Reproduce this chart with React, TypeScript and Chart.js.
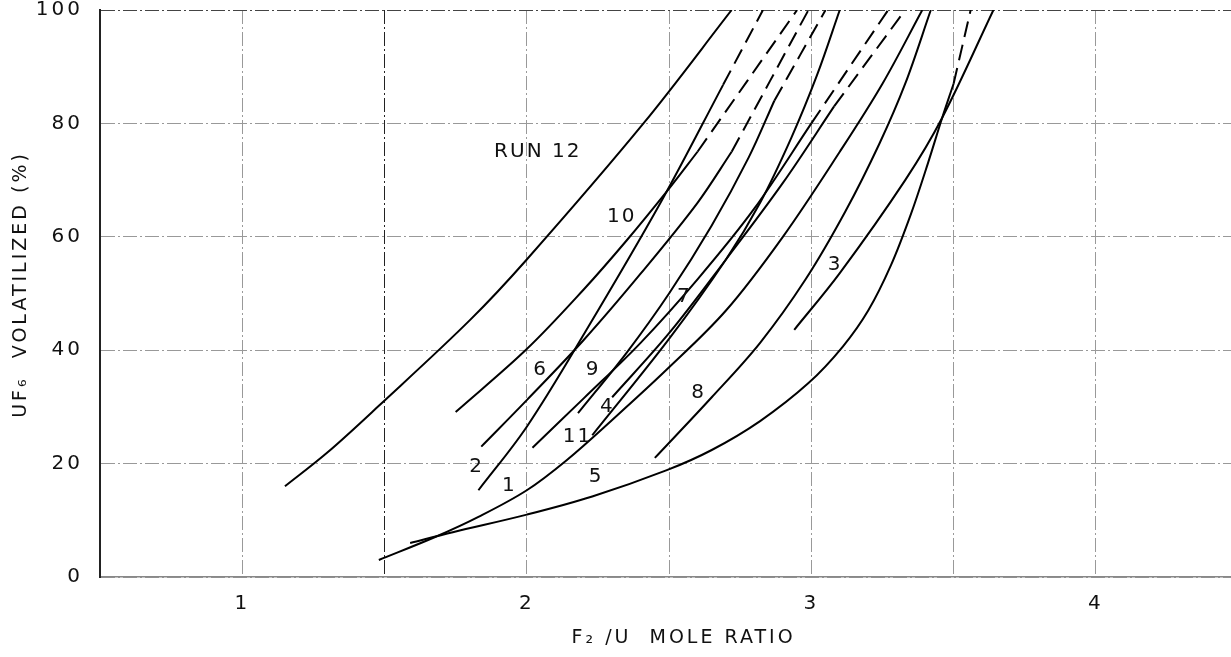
import React, { useEffect, useRef } from "react";
import { Chart, registerables } from "chart.js";

Chart.register(...registerables);

// Tick values
const xTickLabels = [1, 2, 3, 4];
const yTickValues = [0, 20, 40, 60, 80, 100];

// Each run: solid (measured) part and dashed (extrapolated) part, as [F2/U mole ratio, % UF6 volatilized]
const run1 = [[1.48, 3], [1.68, 7.1], [1.83, 10.6], [2.0, 15.3], [2.14, 20.6], [2.3, 27.7], [2.49, 36.5], [2.7, 47], [2.9, 60], [3.1, 75], [3.25, 87], [3.39, 100]];
const run1Dash: number[][] = [];
const run2 = [[1.83, 15.3], [2.0, 26.5], [2.21, 43.6], [2.47, 66], [2.69, 86.8]];
const run2Dash = [[2.69, 86.8], [2.83, 100]];
const run3 = [[2.94, 43.6], [3.1, 53.6], [3.33, 70], [3.46, 81], [3.64, 100]];
const run3Dash: number[][] = [];
const run4 = [[2.3, 31.7], [2.5, 43], [2.7, 56], [2.9, 69.5], [3.08, 83]];
const run4Dash = [[3.08, 83], [3.33, 100]];
const run5 = [[1.59, 6], [1.74, 7.9], [2.0, 11], [2.23, 14.2], [2.49, 18.8], [2.65, 22.4], [2.82, 27.5], [2.99, 34.2], [3.11, 40.6], [3.2, 47], [3.28, 55], [3.35, 64], [3.41, 73], [3.46, 81], [3.5, 87]];
const run5Dash = [[3.5, 87], [3.56, 100]];
const run6 = [[1.84, 23], [2.0, 31.2], [2.2, 41.8], [2.4, 53.5], [2.6, 66], [2.72, 75]];
const run6Dash = [[2.72, 75], [2.99, 100]];
const run7 = [[2.18, 28.9], [2.35, 39.5], [2.5, 50], [2.65, 62], [2.78, 74], [2.87, 84]];
const run7Dash = [[2.87, 84], [3.05, 100]];
const run8 = [[2.45, 21], [2.65, 31.7], [2.82, 41.3], [2.98, 52.5], [3.12, 64.5], [3.24, 76.5], [3.33, 87], [3.42, 100]];
const run8Dash: number[][] = [];
const run9 = [[2.02, 22.8], [2.2, 31.5], [2.4, 41.3], [2.6, 52.5], [2.8, 65], [3.0, 80]];
const run9Dash = [[3.0, 80], [3.27, 100]];
const run10 = [[1.75, 29.1], [2.0, 40.2], [2.2, 50.7], [2.35, 59.3], [2.5, 68.5], [2.6, 75]];
const run10Dash = [[2.6, 75], [2.95, 100]];
const run11 = [[2.23, 25], [2.5, 42], [2.7, 56], [2.82, 66], [2.93, 77.5], [3.02, 88.5], [3.1, 100]];
const run11Dash: number[][] = [];
const run12 = [[1.15, 16], [1.3, 22], [1.48, 30.2], [1.8, 45.3], [2.0, 56], [2.41, 80], [2.72, 100]];

// Curve labels [text, x, y]
const curveLabels: [string, number, number][] = [
  ["RUN 12", 2.035, 75],
  ["10", 2.33, 63.5],
  ["6", 2.045, 36.5],
  ["9", 2.23, 36.5],
  ["7", 2.55, 49.4],
  ["4", 2.28, 30],
  ["11", 2.175, 24.8],
  ["8", 2.6, 32.5],
  ["2", 1.82, 19.4],
  ["1", 1.935, 16],
  ["5", 2.24, 17.6],
  ["3", 3.08, 55],
];

const solidRuns = [run1, run2, run3, run4, run5, run6, run7, run8, run9, run10, run11, run12];
const dashRuns = [run1Dash, run2Dash, run3Dash, run4Dash, run5Dash, run6Dash, run7Dash, run8Dash, run9Dash, run10Dash, run11Dash];

const FONT = "'DejaVu Sans', sans-serif";

const spacingPlugin = {
  id: "letterSpacing",
  beforeUpdate(chart: any) {
    chart.ctx.letterSpacing = "3px";
  },
  beforeDraw(chart: any) {
    chart.ctx.letterSpacing = "3px";
  },
};

const labelPlugin = {
  id: "curveLabels",
  afterDatasetsDraw(chart: any) {
    const { ctx, scales } = chart;
    ctx.save();
    ctx.letterSpacing = "2px";
    ctx.fillStyle = "#111";
    ctx.font = `20px ${FONT}`;
    ctx.textAlign = "center";
    ctx.textBaseline = "middle";
    for (const [t, x, y] of curveLabels) {
      ctx.fillText(t, scales.x.getPixelForValue(x) + 1, scales.y.getPixelForValue(y));
    }
    ctx.restore();
  },
};

export default function App() {
  const ref = useRef<HTMLCanvasElement | null>(null);
  useEffect(() => {
    document.body.style.margin = "0";
    const toPts = (a: number[][]) => a.map(([x, y]) => ({ x, y }));
    const datasets: any[] = [];
    solidRuns.forEach((r) => {
      if (r.length)
        datasets.push({
          data: toPts(r),
          borderColor: "#000",
          borderWidth: 2,
          pointRadius: 0,
          tension: 0.35,
          fill: false,
        });
    });
    dashRuns.forEach((r) => {
      if (r.length)
        datasets.push({
          data: toPts(r),
          borderColor: "#000",
          borderWidth: 2,
          borderDash: [16, 8],
          pointRadius: 0,
          tension: 0.35,
          fill: false,
        });
    });
    const chart = new Chart(ref.current as HTMLCanvasElement, {
      type: "line",
      data: { datasets },
      options: {
        animation: false,
        responsive: false,
        maintainAspectRatio: false,
        layout: { padding: { top: 10, right: 0, left: 0, bottom: 0 } },
        plugins: { legend: { display: false }, tooltip: { enabled: false } },
        scales: {
          x: {
            type: "linear",
            min: 0.5,
            max: 4.475,
            afterFit: (axis: any) => {
              axis.height = 80;
              axis.paddingLeft = 0;
              axis.paddingRight = 0;
            },
            border: { display: true, color: "#888", width: 1.5, dash: [14, 3, 2, 3] },
            grid: {
              color: (c: any) => (c.tick && c.tick.value === 1.5 ? "#222" : "#999"),
              lineWidth: 1,
              drawTicks: false,
            },
            ticks: {
              stepSize: 0.5,
              color: "#111",
              padding: 15,
              font: { family: FONT, size: 20 },
              callback: (v: any) => (xTickLabels.includes(Number(v)) ? String(v) : ""),
              maxRotation: 0,
              autoSkip: false,
            },
            title: {
              display: true,
              text: "    F₂ /U  MOLE RATIO",
              color: "#111",
              font: { family: FONT, size: 19 },
              padding: { top: 0, bottom: 8 },
            },
          },
          y: {
            type: "linear",
            min: 0,
            max: 100,
            afterBuildTicks: (axis: any) => {
              axis.ticks = yTickValues.map((v) => ({ value: v }));
            },
            afterFit: (axis: any) => {
              axis.width = 100;
              axis.paddingTop = 0;
              axis.paddingBottom = 0;
            },
            border: { display: true, color: "#222", width: 2, dash: [14, 3, 2, 3] },
            grid: {
              color: (c: any) => (c.tick && c.tick.value === 100 ? "#444" : "#999"),
              lineWidth: 1,
              drawTicks: false,
            },
            ticks: {
              color: "#111",
              padding: 17,
              font: { family: FONT, size: 20 },
            },
            title: {
              display: true,
              text: "  UF₆  VOLATILIZED (%)",
              color: "#111",
              font: { family: FONT, size: 19 },
              padding: { top: 10, bottom: 0 },
            },
          },
        },
      },
      plugins: [spacingPlugin, labelPlugin],
    });
    return () => chart.destroy();
  }, []);
  return (
    <div style={{ position: "fixed", left: 0, top: 0, width: 1231, height: 657, background: "#fff" }}>
      <canvas ref={ref} width={1231} height={657} />
    </div>
  );
}
